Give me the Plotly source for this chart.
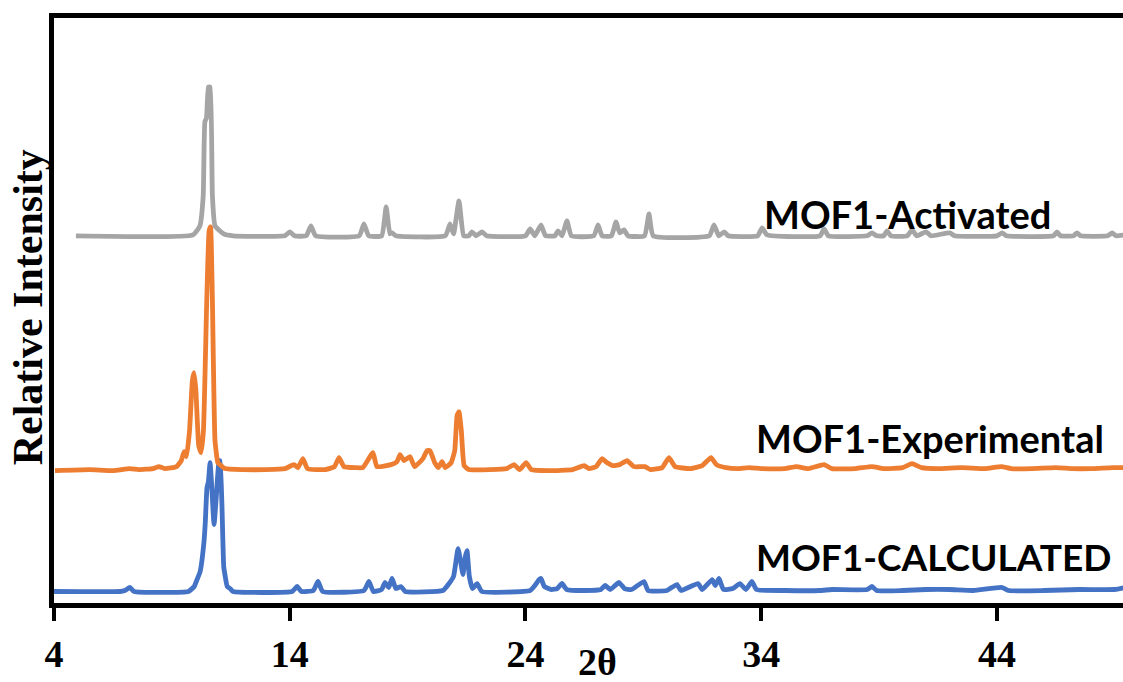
import plotly.graph_objects as go

# ---- data (2θ in degrees, intensity in arbitrary units relative to each pattern's baseline) ----
act_two_theta = [4.93, 9.9, 10.19, 10.33, 10.40, 10.47, 10.55, 10.62, 10.72, 10.83, 11.2, 11.6,
                 13.8, 14.01, 14.2, 14.7, 14.90, 15.1, 16.95, 17.15, 17.35, 17.9, 18.09, 18.25, 18.34, 18.5,
                 20.6, 20.80, 20.95, 21.18, 21.38, 21.6, 21.73, 21.9, 22.16, 22.35,
                 24.0, 24.20, 24.4, 24.66, 24.85, 25.25, 25.38, 25.55, 25.76, 25.95,
                 26.9, 27.08, 27.25, 27.65, 27.84, 28.0, 28.18, 28.35, 29.05, 29.24, 29.42,
                 31.8, 32.0, 32.2, 32.43, 32.6, 33.85, 34.04, 34.25, 36.5, 36.67, 36.85,
                 38.5, 38.7, 38.9, 39.2, 39.34, 39.5, 40.2, 40.4, 40.6, 41.0, 41.2, 42.0, 42.2,
                 44.0, 44.22, 44.4, 46.4, 46.55, 46.7, 47.25, 47.40, 47.55, 48.7, 48.89, 49.05, 49.44]
act_intensity = [0, 1, 10, 40, 114, 118, 149, 149, 40, 10, 2, 0,
                 0, 4, 0, 0, 10, 0, 0, 12, 0, 0, 29, 2, 3, 0,
                 0, 12, 2, 35, 0, 0, 4, 0, 4, 0,
                 0, 7, 0, 11, 0, 0, 5, 0, 15, 0,
                 0, 11, 0, 0, 14, 3, 6, 0, 0, 22, 0,
                 0, 11, 0, 4, 0, 0, 8, 1, 0, 7, 0,
                 0, 3, 0, 0, 5, 0, 0, 6, 0, 4, 0, 3, 0,
                 0, 3, 0, 0, 4, 0, 0, 3, 0, 0, 3, 0, 1]

exp_two_theta = [4.04, 5.5, 6.5, 7.22, 7.6, 8.2, 8.45, 8.7, 9.2, 9.40, 9.52, 9.62, 9.75, 9.87, 9.94, 10.02,
                 10.14, 10.24, 10.34, 10.48, 10.58, 10.64, 10.72, 10.83, 10.95, 11.04, 11.25, 12.0, 13.0,
                 13.8, 14.18, 14.35, 14.56, 14.75, 15.5, 15.9, 16.09, 16.3, 16.8, 17.1, 17.53, 17.7,
                 18.3, 18.55, 18.68, 18.85, 19.10, 19.3, 19.65, 19.83, 19.95, 20.15, 20.3, 20.46, 20.6,
                 20.85, 21.0, 21.1, 21.18, 21.28, 21.40, 21.6, 22.5, 23.2, 23.52, 23.75, 24.03, 24.25,
                 25.0, 26.0, 26.49, 26.7, 27.0, 27.25, 27.45, 27.7, 28.0, 28.31, 28.6, 29.07, 29.3,
                 29.8, 30.09, 30.35, 31.0, 31.5, 31.87, 32.1, 32.5, 33.0, 33.5, 34.0, 35.0, 35.5, 36.0,
                 36.67, 37.0, 38.0, 38.7, 39.2, 40.0, 40.4, 40.8, 41.5, 42.5, 43.5, 44.2, 44.6, 45.5,
                 46.5, 47.2, 48.0, 48.9, 49.44]
exp_intensity = [0, 1, 0, 2, 1, 2, 4, 2, 4, 10, 19, 14, 40, 90, 98, 80,
                 25, 18, 40, 170, 240, 244, 170, 30, 8, 6, 2, 1, 1,
                 2, 6, 3, 12, 2, 1, 4, 13, 4, 3, 3, 18, 4,
                 6, 9, 16, 10, 14, 4, 12, 20, 20, 8, 3, 9, 3,
                 8, 20, 55, 59, 40, 5, 1, 1, 2, 6, 1, 8, 1,
                 0, 1, 5, 2, 4, 12, 8, 5, 6, 10, 4, 4, 1,
                 3, 13, 4, 2, 5, 13, 6, 3, 2, 3, 2, 2, 4, 2,
                 6, 2, 2, 4, 2, 3, 7, 3, 2, 3, 2, 4, 2, 2,
                 3, 2, 2, 3, 3]

calc_two_theta = [4.0, 6.8, 7.0, 7.22, 7.4, 9.7, 9.95, 10.07, 10.2, 10.36, 10.42, 10.49, 10.55, 10.62,
                  10.68, 10.79, 10.9, 11.0, 11.04, 11.12, 11.2, 11.25, 11.35, 11.47, 11.6,
                  14.1, 14.31, 14.5, 15.0, 15.20, 15.4, 17.15, 17.36, 17.55, 17.9, 18.04, 18.2, 18.34,
                  18.5, 18.72, 18.9, 20.5, 20.76, 20.95, 21.14, 21.25, 21.35, 21.45, 21.52, 21.62,
                  21.75, 21.95, 22.15, 24.2, 24.4, 24.58, 24.66, 24.8, 25.1, 25.35, 25.55, 25.75,
                  26.5, 27.2, 27.38, 27.6, 27.97, 28.2, 28.5, 29.03, 29.2, 30.0, 30.43, 30.6, 31.32,
                  31.5, 31.92, 32.05, 32.21, 32.4, 32.8, 33.10, 33.35, 33.61, 33.8, 35.0, 36.5, 37.0,
                  38.5, 38.70, 38.9, 40.0, 41.0, 42.0, 43.0, 44.22, 44.5, 46.0, 47.5, 49.0, 49.44]
calc_intensity = [0, 0, 1, 4, 0, 0, 5, 12, 20, 49, 70, 104, 110, 129,
                  110, 67, 100, 131, 131, 90, 25, 17, 5, 3, 0,
                  0, 5, 0, 1, 10, 0, 1, 10, 0, 2, 9, 4, 13,
                  3, 5, 0, 1, 8, 15, 43, 30, 17, 35, 41, 15,
                  3, 8, 0, 1, 6, 12, 13, 5, 2, 3, 8, 2,
                  1, 2, 6, 2, 9, 3, 2, 10, 1, 1, 7, 1, 8,
                  2, 12, 6, 13, 2, 3, 8, 2, 10, 2, 1, 1, 2,
                  2, 5, 1, 1, 2, 2, 1, 4, 1, 1, 2, 2, 4]

# stacking offsets of each pattern
offset_calc = 14
offset_exp = 135
offset_act = 370

series_names = ["MOF1-CALCULATED", "MOF1-Experimental", "MOF1-Activated"]
x_ticks = [4, 14, 24, 34, 44]

fig = go.Figure()
for xs, ys, off, col in [
    (calc_two_theta, calc_intensity, offset_calc, "#4472C4"),
    (exp_two_theta, exp_intensity, offset_exp, "#ED7D31"),
    (act_two_theta, act_intensity, offset_act, "#A5A5A5"),
]:
    fig.add_trace(go.Scatter(x=xs, y=[v + off for v in ys], mode="lines",
                             line=dict(color=col, width=4.8, shape="spline", smoothing=0.4),
                             showlegend=False))

label_font = dict(family="Lato, Liberation Sans, sans-serif", size=38, color="black", weight="bold")
fig.add_annotation(x=34.04, y=392, text=series_names[2], showarrow=False, xanchor="left",
                   yanchor="middle", font=label_font)
fig.add_annotation(x=33.70, y=168, text=series_names[1], showarrow=False, xanchor="left",
                   yanchor="middle", font=label_font)
fig.add_annotation(x=33.70, y=49, text=series_names[0], showarrow=False, xanchor="left",
                   yanchor="middle", font=dict(label_font, size=37))

serif_bold = dict(family="Liberation Serif, Times New Roman, serif", size=38, color="black", weight="bold")
fig.add_annotation(xref="paper", yref="paper", x=-0.024, y=0.506, text="Relative Intensity",
                   textangle=-90, showarrow=False, xanchor="center", yanchor="middle",
                   font=dict(family="Liberation Serif, Times New Roman, serif", size=42,
                             color="black", weight="bold"))
fig.add_annotation(x=27.04, yref="paper", y=-0.101, text="2θ", showarrow=False,
                   xanchor="center", yanchor="middle", font=serif_bold)

fig.update_layout(
    width=1123, height=682,
    margin=dict(l=54, r=0, t=18, b=79),
    plot_bgcolor="white", paper_bgcolor="white",
    xaxis=dict(range=[4, 49.35], tickvals=x_ticks, ticktext=[str(t) for t in x_ticks],
               showgrid=False, zeroline=False, showline=True, linecolor="black", linewidth=5,
               mirror=True, ticks="outside", ticklen=13, tickwidth=4, tickcolor="black",
               tickfont=serif_bold),
    yaxis=dict(range=[2.5, 588], showgrid=False, zeroline=False, showline=True,
               linecolor="black", linewidth=5, showticklabels=False, ticks=""),
)

fig.write_html("out.html", config={"displayModeBar": False},
               post_script="document.body.style.margin='0';document.body.style.overflow='hidden';")
